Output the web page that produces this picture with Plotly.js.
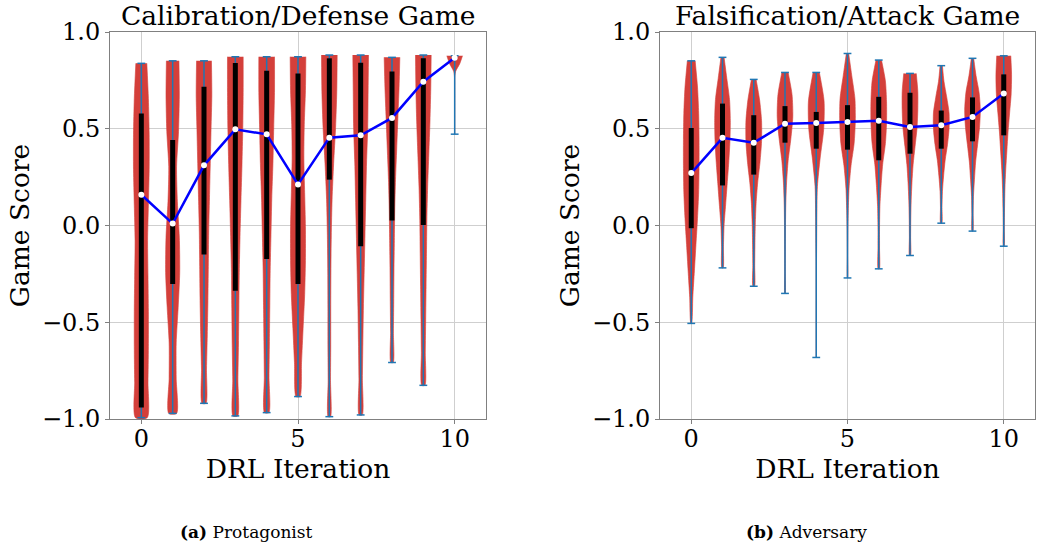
<!DOCTYPE html>
<html>
<head>
<meta charset="utf-8">
<script src="https://cdn.plot.ly/plotly-3.0.1.min.js"></script>
<style>html,body{margin:0;padding:0;background:#fff;}#chart{width:1037px;height:550px;}</style>
</head>
<body>
<div id="chart"></div>
<script>
// ---- data ----
const iterations = [0, 1, 2, 3, 4, 5, 6, 7, 8, 9, 10];

// (a) Protagonist — Calibration/Defense Game
const leftMax    = [0.838, 0.851, 0.851, 0.872, 0.872, 0.872, 0.881, 0.881, 0.869, 0.881, 0.877];
const leftMin    = [-0.993, -0.971, -0.919, -0.984, -0.967, -0.884, -0.988, -0.979, -0.708, -0.826, 0.472];
const leftQ1     = [-0.940, -0.302, -0.150, -0.337, -0.173, -0.302, 0.237, -0.107, 0.026, 0.002, 0.866];
const leftQ3     = [0.579, 0.442, 0.717, 0.840, 0.800, 0.786, 0.864, 0.841, 0.796, 0.864, 0.877];
const leftMedian = [0.159, 0.010, 0.311, 0.497, 0.471, 0.212, 0.454, 0.466, 0.556, 0.743, 0.867];
// relative violin half-widths, 11 samples from max (first) down to min (last)
const leftWidths = [
  [0.70, 0.90, 1.00, 1.00, 0.90, 0.80, 0.85, 0.90, 0.90, 0.85, 0.75],
  [0.80, 0.85, 0.75, 0.50, 0.60, 0.85, 0.90, 0.70, 0.45, 0.45, 0.50],
  [0.95, 1.00, 0.90, 0.80, 0.70, 0.60, 0.55, 0.50, 0.42, 0.32, 0.25],
  [1.00, 1.00, 0.95, 0.85, 0.72, 0.60, 0.50, 0.45, 0.40, 0.33, 0.30],
  [1.00, 1.00, 0.90, 0.80, 0.65, 0.55, 0.45, 0.40, 0.35, 0.30, 0.28],
  [1.00, 0.95, 0.80, 0.75, 0.85, 0.95, 0.95, 0.85, 0.65, 0.45, 0.25],
  [1.00, 0.95, 0.80, 0.55, 0.35, 0.25, 0.20, 0.18, 0.18, 0.15, 0.15],
  [1.00, 0.95, 0.90, 0.75, 0.65, 0.55, 0.45, 0.35, 0.28, 0.22, 0.20],
  [1.00, 0.90, 0.75, 0.60, 0.45, 0.35, 0.30, 0.25, 0.22, 0.18, 0.15],
  [1.00, 0.95, 0.85, 0.70, 0.55, 0.45, 0.40, 0.35, 0.30, 0.25, 0.20],
  [1.00, 0.65, 0.12, 0.00, 0.00, 0.00, 0.00, 0.00, 0.00, 0.00, 0.00]
];

// (b) Adversary — Falsification/Attack Game
const rightMax    = [0.851, 0.869, 0.755, 0.791, 0.791, 0.889, 0.855, 0.786, 0.826, 0.864, 0.877];
const rightMin    = [-0.506, -0.219, -0.314, -0.351, -0.682, -0.271, -0.224, -0.155, 0.012, -0.029, -0.107];
const rightQ1     = [-0.014, 0.207, 0.263, 0.428, 0.397, 0.392, 0.337, 0.371, 0.397, 0.435, 0.466];
const rightQ3     = [0.504, 0.630, 0.570, 0.617, 0.587, 0.622, 0.665, 0.686, 0.594, 0.662, 0.781];
const rightMedian = [0.271, 0.453, 0.428, 0.526, 0.530, 0.535, 0.541, 0.509, 0.518, 0.561, 0.682];
const rightWidths = [
  [0.50, 0.80, 0.95, 1.00, 1.00, 0.95, 0.80, 0.60, 0.40, 0.20, 0.05],
  [0.20, 0.55, 0.90, 1.00, 0.95, 0.80, 0.60, 0.40, 0.20, 0.12, 0.08],
  [0.30, 0.75, 1.00, 1.00, 0.80, 0.50, 0.30, 0.20, 0.15, 0.12, 0.10],
  [0.40, 0.90, 1.00, 0.75, 0.40, 0.20, 0.10, 0.06, 0.04, 0.03, 0.03],
  [0.40, 1.00, 0.95, 0.50, 0.15, 0.08, 0.05, 0.02, 0.00, 0.00, 0.00],
  [0.15, 0.55, 0.95, 1.00, 0.85, 0.45, 0.20, 0.10, 0.05, 0.03, 0.02],
  [0.35, 0.85, 1.00, 1.00, 0.85, 0.50, 0.30, 0.15, 0.10, 0.10, 0.08],
  [0.80, 1.00, 1.00, 0.90, 0.65, 0.40, 0.25, 0.15, 0.10, 0.08, 0.07],
  [0.15, 0.35, 0.70, 1.00, 1.00, 0.80, 0.50, 0.30, 0.15, 0.10, 0.08],
  [0.15, 0.45, 0.85, 1.00, 0.90, 0.65, 0.40, 0.25, 0.12, 0.08, 0.06],
  [0.90, 1.00, 0.95, 0.75, 0.55, 0.40, 0.25, 0.15, 0.10, 0.07, 0.05]
];

const panelTitles = ['Calibration/Defense Game', 'Falsification/Attack Game'];
const captions = ['<b>(a)</b> Protagonist', '<b>(b)</b> Adversary'];

// ---- styling ----
const HALF = 0.25;      // half of violin width (widths=0.5)
const CAP = 0.125;      // half of extrema cap length
const VIOLIN = '#D43F3A';
const WHISK = '#1f77b4';
const FONT = 'DejaVu Serif';

function panelTraces(xa, ya, mx, mn, q1, q3, med, widths) {
  const traces = [];
  iterations.forEach((it, i) => {
    const n = widths[i].length;
    const ys = widths[i].map((_, k) => mx[i] - (mx[i] - mn[i]) * k / (n - 1));
    const right = widths[i].map(w => it + w * HALF);
    const left = widths[i].map(w => it - w * HALF).reverse();
    traces.push({
      x: right.concat(left), y: ys.concat(ys.slice().reverse()),
      xaxis: xa, yaxis: ya, mode: 'lines', fill: 'toself',
      fillcolor: VIOLIN, line: {color: 'rgba(212,63,58,0.6)', width: 1, shape: 'spline', smoothing: 0.7},
      hoverinfo: 'skip', showlegend: false
    });
  });
  // extrema bars and caps
  const wx = [], wy = [];
  iterations.forEach((it, i) => {
    wx.push(it, it, null, it - CAP, it + CAP, null, it - CAP, it + CAP, null);
    wy.push(mn[i], mx[i], null, mn[i], mn[i], null, mx[i], mx[i], null);
  });
  traces.push({x: wx, y: wy, xaxis: xa, yaxis: ya, mode: 'lines',
    line: {color: WHISK, width: 1.5}, hoverinfo: 'skip', showlegend: false});
  // interquartile bars
  const bx = [], by = [];
  iterations.forEach((it, i) => { bx.push(it, it, null); by.push(q1[i], q3[i], null); });
  traces.push({x: bx, y: by, xaxis: xa, yaxis: ya, mode: 'lines',
    line: {color: '#000', width: 5}, hoverinfo: 'skip', showlegend: false});
  // medians
  traces.push({x: iterations, y: med, xaxis: xa, yaxis: ya, mode: 'lines+markers',
    line: {color: '#0000ff', width: 2.5},
    marker: {color: '#fff', size: 6, line: {width: 0}}, showlegend: false});
  return traces;
}

const data = [].concat(
  panelTraces('x', 'y', leftMax, leftMin, leftQ1, leftQ3, leftMedian, leftWidths),
  panelTraces('x2', 'y2', rightMax, rightMin, rightQ1, rightQ3, rightMedian, rightWidths)
);

const xCommon = {
  range: [-1, 11], tick0: 0, dtick: 5, showgrid: true, gridcolor: '#cfcfcf', gridwidth: 1,
  zeroline: false, showline: true, mirror: true, linecolor: '#808080', linewidth: 1,
  ticks: 'outside', ticklen: 4, tickcolor: '#808080', ticklabelstandoff: -6,
  tickfont: {family: FONT, size: 24, color: '#000'},
  title: {text: 'DRL Iteration', font: {family: FONT, size: 26.5, color: '#000'}, standoff: 0}
};
const yCommon = {
  range: [-1, 1], tick0: -1, dtick: 0.5, tickformat: '.1f', showgrid: true, gridcolor: '#cfcfcf', gridwidth: 1,
  zeroline: false, showline: true, mirror: true, linecolor: '#808080', linewidth: 1,
  ticks: 'outside', ticklen: 4, tickcolor: '#808080',
  tickfont: {family: FONT, size: 24, color: '#000'},
  title: {text: 'Game Score', font: {family: FONT, size: 26.5, color: '#000'}, standoff: 4}
};

const W = 1037, H = 550, ML = 110, MR = 2, MT = 32, MB = 131;
const pw = W - ML - MR, ph = H - MT - MB;
const px = v => (v - ML) / pw;
const py = v => 1 - (v - MT) / ph;

const layout = {
  width: W, height: H,
  margin: {l: ML, r: MR, t: MT, b: MB},
  paper_bgcolor: '#fff', plot_bgcolor: '#fff',
  font: {family: FONT, color: '#000'},
  showlegend: false,
  xaxis: Object.assign({}, xCommon, {domain: [0, px(486)], anchor: 'y'}),
  yaxis: Object.assign({}, yCommon, {domain: [0, 1], anchor: 'x'}),
  xaxis2: Object.assign({}, xCommon, {domain: [px(660), 1], anchor: 'y2'}),
  yaxis2: Object.assign({}, yCommon, {domain: [0, 1], anchor: 'x2'}),
  annotations: [
    {text: panelTitles[0], xref: 'paper', yref: 'paper', x: px(298), y: py(15), xanchor: 'center', yanchor: 'middle',
     showarrow: false, font: {family: FONT, size: 26.5, color: '#000'}},
    {text: panelTitles[1], xref: 'paper', yref: 'paper', x: px(847), y: py(15), xanchor: 'center', yanchor: 'middle',
     showarrow: false, font: {family: FONT, size: 26.5, color: '#000'}},
    {text: captions[0], xref: 'paper', yref: 'paper', x: px(246), y: py(532), xanchor: 'center', yanchor: 'middle',
     showarrow: false, font: {family: FONT, size: 17, color: '#000'}},
    {text: captions[1], xref: 'paper', yref: 'paper', x: px(806), y: py(532), xanchor: 'center', yanchor: 'middle',
     showarrow: false, font: {family: FONT, size: 17, color: '#000'}}
  ]
};

Plotly.newPlot('chart', data, layout, {displayModeBar: false, staticPlot: true});
</script>
</body>
</html>
